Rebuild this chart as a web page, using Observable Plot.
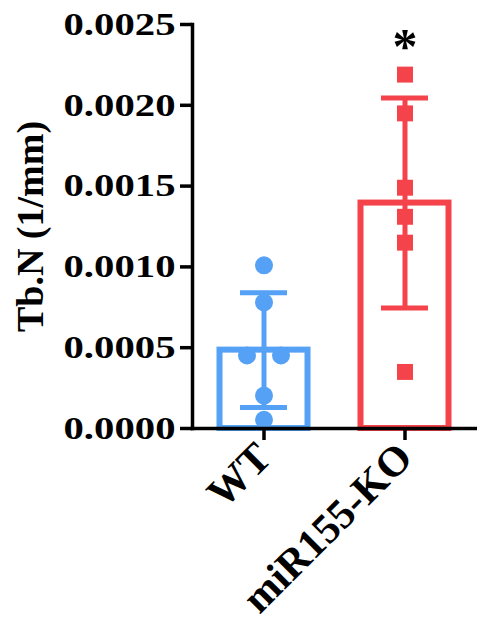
<!DOCTYPE html>
<html><head><meta charset="utf-8">
<script src="https://cdn.jsdelivr.net/npm/d3@7"></script>
<script src="https://cdn.jsdelivr.net/npm/@observablehq/plot@0.6"></script>
<style>body{margin:0;background:#fff;}</style>
</head><body><div id="chart"></div>
<script>
const groups = ["WT", "miR155-KO"];
const colors = ["#55a1f6", "#f4434a"];
const symbols = ["circle", "square"];
const means = [0.000485, 0.001395];
const sds = [0.000355, 0.00065];
const wtValues = [0.00101, 0.00078, 0.000452, 0.000452, 0.000204, 0.000054];
const koValues = [0.00219, 0.00195, 0.00149, 0.00131, 0.00115, 0.00035];
const yTicks = [0, 0.0005, 0.001, 0.0015, 0.002, 0.0025];
const significance = ["", "*"];
const yLabel = "Tb.N (1/mm)";

const FONT = '"Liberation Serif", "Times New Roman", Tinos, serif';
const summary = groups.map((g, i) => ({group: g, mean: means[i], sd: sds[i], color: colors[i]}));
const valueSets = [wtValues, koValues];
const points = [];
valueSets.forEach((vals, gi) => {
  vals.forEach((v, j) => {
    const same = vals.filter(w => w === v).length;
    const k = vals.slice(0, j).filter(w => w === v).length;
    points.push({group: groups[gi], value: v, color: colors[gi], symbol: symbols[gi], spread: k - (same - 1) / 2});
  });
});
const spreads = [...new Set(points.map(p => p.spread))];
const annotations = groups.map((g, i) => ({group: g, label: significance[i], y: d3.max(valueSets[i])})).filter(d => d.label);

const dotMarks = spreads.map(s => Plot.dot(points.filter(p => p.spread === s), {
  x: "group", y: "value", fill: "color", symbol: "symbol", r: 9, dx: s * 34
}));

const plot = Plot.plot({
  width: 477, height: 622,
  marginLeft: 192, marginRight: 2, marginTop: 24, marginBottom: 194,
  style: {fontFamily: FONT, fontWeight: "bold", color: "#000", background: "#fff", overflow: "visible"},
  x: {domain: groups, padding: 0, label: null},
  y: {domain: [0, 0.0025], label: null},
  color: {type: "identity"},
  symbol: {type: "identity"},
  marks: [
    Plot.barY(summary, {x: "group", y: "mean", stroke: "color", fill: "white", strokeWidth: 6, insetLeft: 26.5, insetRight: 26.5}),
    Plot.ruleX(summary, {x: "group", y1: d => d.mean - d.sd, y2: d => d.mean + d.sd, stroke: "color", strokeWidth: 5}),
    Plot.tickY(summary, {x: "group", y: d => d.mean + d.sd, stroke: "color", strokeWidth: 5, insetLeft: 47, insetRight: 47}),
    Plot.tickY(summary, {x: "group", y: d => d.mean - d.sd, stroke: "color", strokeWidth: 5, insetLeft: 47, insetRight: 47}),
    ...dotMarks,
    Plot.frame({anchor: "left", stroke: "#000", strokeWidth: 3.5}),
    Plot.frame({anchor: "bottom", stroke: "#000", strokeWidth: 3.5}),
    Plot.axisY({ticks: yTicks, tickFormat: d3.format(".4f"), tickSize: 12, tickPadding: 5, fontSize: 32, strokeWidth: 3.5, label: null}),
    Plot.axisX({tickSize: 12, tickRotate: -45, fontSize: 42, tickPadding: 10, strokeWidth: 3.5, label: null}),
    Plot.text([yLabel], {frameAnchor: "left", dx: -162, rotate: -90, fontSize: 38, textAnchor: "middle", lineAnchor: "middle"}),
    Plot.text(annotations, {x: "group", y: "y", text: "label", dy: -28, fontSize: 50, lineAnchor: "middle"})
  ]
});
document.getElementById("chart").append(plot);
d3.select(plot).selectAll("text").attr("font-family", FONT).attr("font-weight", "bold");
d3.select(plot).selectAll('g[aria-label="y-axis tick label"] text').each(function() {
  this.setAttribute("textLength", 112);
  this.setAttribute("lengthAdjust", "spacingAndGlyphs");
});
</script>
</body></html>
